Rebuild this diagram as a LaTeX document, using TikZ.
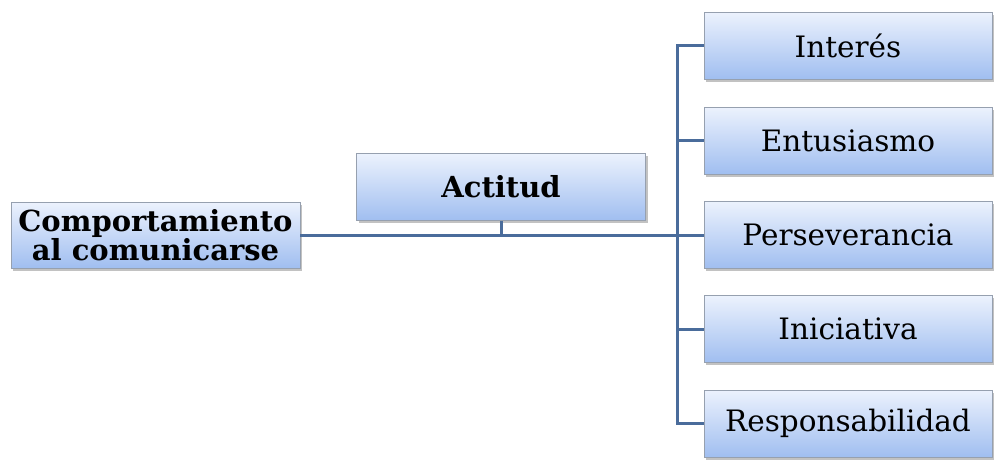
\documentclass[tikz,border=0pt]{standalone}
\usepackage{fontspec}
\setmainfont{DejaVu Serif}
\usetikzlibrary{shadows}
\definecolor{linec}{RGB}{74,108,155}
\definecolor{boxtop}{RGB}{236,242,253}
\definecolor{boxbot}{RGB}{160,190,240}
\definecolor{boxdraw}{RGB}{150,160,175}
\tikzset{
  box/.style={rectangle, draw=boxdraw, line width=0.8pt, top color=boxtop, bottom color=boxbot,
    minimum width=288pt, minimum height=67pt, inner sep=0pt, align=center,
    drop shadow={shadow xshift=2pt, shadow yshift=-2.5pt, opacity=0.4, fill=black!60}},
  boldtxt/.style={font=\fontsize{29}{28}\selectfont\bfseries},
  regtxt/.style={font=\fontsize{29.5}{30}\selectfont},
  conn/.style={draw=linec, line width=3pt}
}
\begin{document}
\begin{tikzpicture}[x=1pt,y=-1pt]
\useasboundingbox (0,0) rectangle (1005,471);
\node[box, boldtxt, minimum width=289pt, minimum height=66pt] (comp) at (155.5,235) {Comportamiento\\al comunicarse};
\node[box, boldtxt, minimum width=289pt] (act) at (501,187) {Actitud};
\node[box, regtxt] (int) at (848,45.5) {Interés};
\node[box, regtxt] (ent) at (848,140.5) {Entusiasmo};
\node[box, regtxt] (per) at (848,235) {Perseverancia};
\node[box, regtxt] (ini) at (848,329) {Iniciativa};
\node[box, regtxt] (res) at (848,423.5) {Responsabilidad};
\coordinate (bus) at (677,235);
\draw[conn] (comp.east) -- (per.west);
\draw[conn] (act.south) -- (act.south |- comp.east);
\draw[conn] (int.west) -- (int.west -| bus) -- (res.west -| bus) -- (res.west);
\draw[conn] (ent.west) -- (ent.west -| bus);
\draw[conn] (ini.west) -- (ini.west -| bus);
\end{tikzpicture}
\end{document}
